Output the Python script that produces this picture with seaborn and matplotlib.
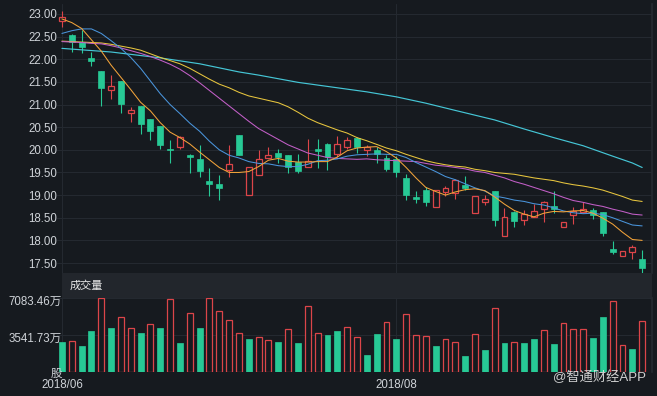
import matplotlib
matplotlib.use("Agg")
import numpy as np
import pandas as pd
import matplotlib.pyplot as plt
import seaborn as sns
from matplotlib.transforms import ScaledTranslation

# -----------------------------
# Data
# -----------------------------
open_ = [22.85, 22.53, 22.39, 22.02, 21.73, 21.31, 21.52, 20.81, 20.97, 20.67,
         20.53, 20.01, 20.07, 19.89, 19.80, 19.32, 19.24, 19.55, 20.33, 19.00,
         19.44, 19.83, 19.94, 19.89, 19.74, 19.61, 20.02, 20.13, 19.91, 20.07,
         20.27, 20.00, 20.00, 19.83, 19.79, 19.37, 18.95, 19.11, 18.74, 19.06,
         19.04, 19.22, 18.60, 18.85, 19.08, 18.10, 18.62, 18.45, 18.51, 18.69,
         18.77, 18.30, 18.56, 18.63, 18.67, 18.62, 17.81, 17.66, 17.75, 17.59]
high = [23.07, 22.55, 22.65, 22.17, 21.73, 21.66, 21.52, 20.95, 20.97, 20.67,
        20.53, 20.22, 20.30, 19.91, 20.11, 19.60, 19.44, 20.11, 20.33, 19.61,
        20.00, 20.07, 20.01, 19.89, 19.91, 20.25, 20.25, 20.16, 20.30, 20.29,
        20.29, 20.11, 20.07, 19.89, 19.86, 19.46, 19.10, 19.17, 19.11, 19.20,
        19.35, 19.42, 18.98, 19.00, 19.08, 18.72, 18.65, 18.67, 18.80, 18.87,
        19.09, 18.41, 18.74, 18.84, 18.72, 18.62, 17.99, 17.77, 17.90, 17.79]
low = [22.72, 22.17, 22.13, 21.86, 20.97, 21.12, 20.82, 20.62, 20.36, 20.22,
       20.01, 19.70, 20.01, 19.49, 19.39, 18.98, 18.89, 19.41, 19.89, 19.00,
       19.44, 19.81, 19.72, 19.49, 19.49, 19.61, 19.59, 19.55, 19.85, 20.01,
       19.92, 19.86, 19.72, 19.54, 19.39, 18.89, 18.83, 18.76, 18.74, 18.98,
       18.91, 19.11, 18.60, 18.78, 18.32, 18.10, 18.30, 18.34, 18.51, 18.40,
       18.60, 18.30, 18.36, 18.61, 18.47, 18.10, 17.69, 17.66, 17.60, 17.27]
close = [22.93, 22.37, 22.26, 21.96, 21.36, 21.42, 21.01, 20.88, 20.56, 20.42,
         20.11, 19.99, 20.28, 19.85, 19.54, 19.24, 19.16, 19.69, 19.89, 19.61,
         19.79, 19.89, 19.85, 19.61, 19.53, 19.75, 19.97, 19.85, 20.12, 20.22,
         20.06, 20.06, 19.91, 19.57, 19.52, 19.00, 18.91, 18.85, 19.11, 19.15,
         19.33, 19.15, 18.98, 18.91, 18.45, 18.51, 18.43, 18.58, 18.65, 18.84,
         18.69, 18.41, 18.65, 18.69, 18.56, 18.16, 17.74, 17.77, 17.86, 17.38]

ma5 = [22.89, 22.81, 22.68, 22.43, 22.18, 21.87, 21.60, 21.33, 21.05, 20.86,
       20.60, 20.39, 20.27, 20.13, 19.95, 19.78, 19.61, 19.50, 19.50, 19.52,
       19.63, 19.77, 19.81, 19.75, 19.73, 19.73, 19.74, 19.74, 19.84, 19.98,
       20.04, 20.06, 20.07, 19.96, 19.82, 19.61, 19.38, 19.17, 19.08, 19.00,
       19.07, 19.12, 19.14, 19.10, 18.96, 18.80, 18.66, 18.58, 18.52, 18.60,
       18.64, 18.63, 18.65, 18.66, 18.60, 18.49, 18.36, 18.18, 18.02, 18.00]
ma10 = [22.57, 22.63, 22.67, 22.67, 22.57, 22.41, 22.24, 22.04, 21.80, 21.52,
        21.24, 21.00, 20.80, 20.59, 20.41, 20.19, 20.00, 19.88, 19.82, 19.74,
        19.70, 19.69, 19.65, 19.63, 19.63, 19.68, 19.76, 19.77, 19.80, 19.86,
        19.89, 19.90, 19.91, 19.90, 19.90, 19.83, 19.72, 19.62, 19.52, 19.41,
        19.34, 19.25, 19.16, 19.09, 18.98, 18.94, 18.89, 18.86, 18.81, 18.78,
        18.72, 18.65, 18.61, 18.59, 18.60, 18.57, 18.50, 18.42, 18.34, 18.32]
ma20 = [22.39, 22.38, 22.37, 22.35, 22.34, 22.30, 22.25, 22.19, 22.13, 22.06,
        21.98, 21.89, 21.78, 21.64, 21.48, 21.31, 21.14, 20.97, 20.80, 20.63,
        20.47, 20.35, 20.23, 20.11, 20.02, 19.93, 19.88, 19.83, 19.81, 19.80,
        19.79, 19.80, 19.78, 19.77, 19.76, 19.75, 19.74, 19.70, 19.66, 19.64,
        19.61, 19.58, 19.53, 19.50, 19.44, 19.38, 19.30, 19.24, 19.17, 19.10,
        19.03, 18.95, 18.88, 18.84, 18.79, 18.75, 18.69, 18.64, 18.58, 18.56]
ma30 = [22.40, 22.39, 22.38, 22.37, 22.36, 22.33, 22.29, 22.25, 22.20, 22.12,
        22.04, 21.97, 21.90, 21.80, 21.68, 21.56, 21.45, 21.37, 21.27, 21.19,
        21.14, 21.09, 21.04, 20.95, 20.83, 20.70, 20.60, 20.52, 20.44, 20.37,
        20.27, 20.20, 20.12, 20.04, 19.98, 19.90, 19.83, 19.76, 19.71, 19.67,
        19.64, 19.62, 19.57, 19.54, 19.50, 19.48, 19.46, 19.42, 19.38, 19.35,
        19.32, 19.27, 19.23, 19.20, 19.16, 19.11, 19.04, 18.97, 18.89, 18.86]
ma60_idx = [0, 5, 10, 14, 18, 20, 24, 28, 31, 34, 37, 40, 44, 47, 50, 53, 56, 58, 59]
ma60 = [22.24, 22.16, 22.03, 21.90, 21.72, 21.65, 21.49, 21.37, 21.28, 21.17,
        21.03, 20.87, 20.66, 20.46, 20.27, 20.09, 19.86, 19.71, 19.61]

# volume in 万股, and whether the bar is drawn red (hollow) or green (filled)
volume = [2836, 2963, 2421, 3919, 7041, 4174, 5193, 4206, 3696, 4524,
          4174, 6914, 2708, 5576, 4174, 7083.46, 5767, 4906, 3696, 3122,
          3345, 3027, 2804, 4046, 2708, 6245, 3696, 3505, 3887, 4269,
          3282, 1625, 3600, 4715, 3122, 5480, 3505, 3377, 2453, 3090,
          2836, 1497, 3568, 2071, 6085, 2740, 2836, 2772, 3154, 3951,
          2613, 4683, 4046, 4046, 3186, 5257, 6722, 2581, 2166, 4875]
vol_dir = "GRGGRGRRGRGRGRGRRRRGRRGRGRRGGRRGGRGRRRGRRGRGRGRGGRGRRRGGRRGR"

date_ticks = [0, 34]
date_labels = ["2018/06", "2018/08"]
vol_ticks = [3541.73, 7083.46]
vol_labels = ["3541.73万", "7083.46万"]

# -----------------------------
# Style
# -----------------------------
BG = "#161a1f"
GRID = "#242930"
TXT = "#cfd3d8"
RED = "#dc4549"
GREEN = "#27c995"
MA_COLORS = {"ma5": "#f2a33a", "ma10": "#4a95dc", "ma20": "#c35fc8",
             "ma30": "#e8c63e", "ma60": "#45c6d6"}

sns.set_theme(style="dark", rc={"axes.facecolor": BG, "figure.facecolor": BG,
                                "axes.edgecolor": GRID, "grid.color": GRID})
plt.rcParams["font.family"] = ["Liberation Sans", "Noto Sans CJK SC", "DejaVu Sans"]

W, H = 657, 396
fig = plt.figure(figsize=(W / 100, H / 100), dpi=100)
ax = fig.add_axes([57 / W, (H - 273) / H, 595 / W, 269 / H])
hdr = fig.add_axes([62 / W, (H - 297.5) / H, 590 / W, 24.5 / H])
axv = fig.add_axes([57 / W, (H - 371.7) / H, 595 / W, 74.2 / H])

df = pd.DataFrame({"o": open_, "h": high, "l": low, "c": close})
df["i"] = np.arange(len(df))
df["up"] = df["c"] >= df["o"]
df["lo"] = df[["o", "c"]].min(axis=1)
df["hi"] = df[["o", "c"]].max(axis=1)
df["bh"] = (df["hi"] - df["lo"]).clip(lower=0.012)

# -----------------------------
# Price panel
# -----------------------------
up = df[df["up"]]
dn = df[~df["up"]]
ax.vlines(dn["i"], dn["l"], dn["h"], color=GREEN, lw=0.8, zorder=2)
ax.vlines(up["i"], up["l"], up["lo"], color=RED, lw=0.8, zorder=2)
ax.vlines(up["i"], up["hi"], up["h"], color=RED, lw=0.8, zorder=2)
ax.bar(dn["i"], dn["bh"], bottom=dn["lo"], width=0.6, color=GREEN,
       edgecolor=GREEN, linewidth=0.5, zorder=3)
ax.bar(up["i"], up["bh"], bottom=up["lo"], width=0.6, facecolor=BG,
       edgecolor=RED, linewidth=0.9, zorder=3)

idx = np.arange(len(close))
for name, vals in [("ma60", None), ("ma30", ma30), ("ma20", ma20),
                   ("ma10", ma10), ("ma5", ma5)]:
    if vals is None:
        sns.lineplot(x=ma60_idx, y=ma60, ax=ax, color=MA_COLORS[name], lw=0.85, zorder=4)
    else:
        sns.lineplot(x=idx, y=vals, ax=ax, color=MA_COLORS[name], lw=0.75, zorder=4)

ax.set_xlim(-0.5, 60.0)
ax.set_ylim(17.28, 23.22)
ax.set_yticks(np.arange(17.5, 23.01, 0.5))
ax.set_yticklabels([f"{v:.2f}" for v in np.arange(17.5, 23.01, 0.5)])
ax.set_xticks(date_ticks)
ax.set_xticklabels([])
ax.tick_params(axis="y", length=0, pad=0, colors=TXT, labelsize=8.3)
ax.tick_params(axis="x", length=0)
ax.grid(True, color=GRID, lw=0.8)
ax.set_xlabel("")
ax.set_ylabel("")
for side in ["top", "left", "bottom"]:
    ax.spines[side].set_visible(False)
ax.spines["right"].set_color(GRID)

# -----------------------------
# Volume header
# -----------------------------
hdr.set_facecolor("#22262c")
hdr.set_xticks([])
hdr.set_yticks([])
for s in hdr.spines.values():
    s.set_visible(False)
hdr.text(8 / 590, 0.5, "成交量", transform=hdr.transAxes, ha="left", va="center",
         color="#e8e8e8", fontsize=8)

# -----------------------------
# Volume panel
# -----------------------------
red_i = [i for i, d in enumerate(vol_dir) if d == "R"]
grn_i = [i for i, d in enumerate(vol_dir) if d == "G"]
axv.bar(grn_i, [volume[i] for i in grn_i], width=0.6, color=GREEN, edgecolor=GREEN,
        linewidth=0.5, zorder=3)
axv.bar(red_i, [volume[i] for i in red_i], width=0.6, facecolor=BG, edgecolor=RED,
        linewidth=0.9, zorder=3)
axv.set_xlim(-0.5, 60.0)
axv.set_ylim(0, 7083.46)
axv.set_yticks(vol_ticks)
axv.set_yticklabels(vol_labels)
axv.set_xticks(date_ticks)
axv.set_xticklabels(date_labels)
axv.tick_params(axis="y", length=0, pad=-3.6, colors=TXT, labelsize=8.3)
axv.tick_params(axis="x", length=0, pad=5.5, colors=TXT, labelsize=8.3)
shift = ScaledTranslation(0, -2.5 / 100, fig.dpi_scale_trans)
for lbl in axv.get_yticklabels():
    lbl.set_transform(lbl.get_transform() + shift)
axv.grid(True, color=GRID, lw=0.8)
for side in ["top", "left", "bottom"]:
    axv.spines[side].set_visible(False)
axv.spines["right"].set_color(GRID)

fig.text(62 / W, 1 - 373.5 / H, "股", ha="right", va="center", color=TXT, fontsize=8.3)
fig.text(646 / W, 1 - 377 / H, "@智通财经APP", ha="right", va="center",
         color="#e4e4e4", fontsize=9.5, alpha=0.9)

fig.savefig("out.png", dpi=100, facecolor=BG)
